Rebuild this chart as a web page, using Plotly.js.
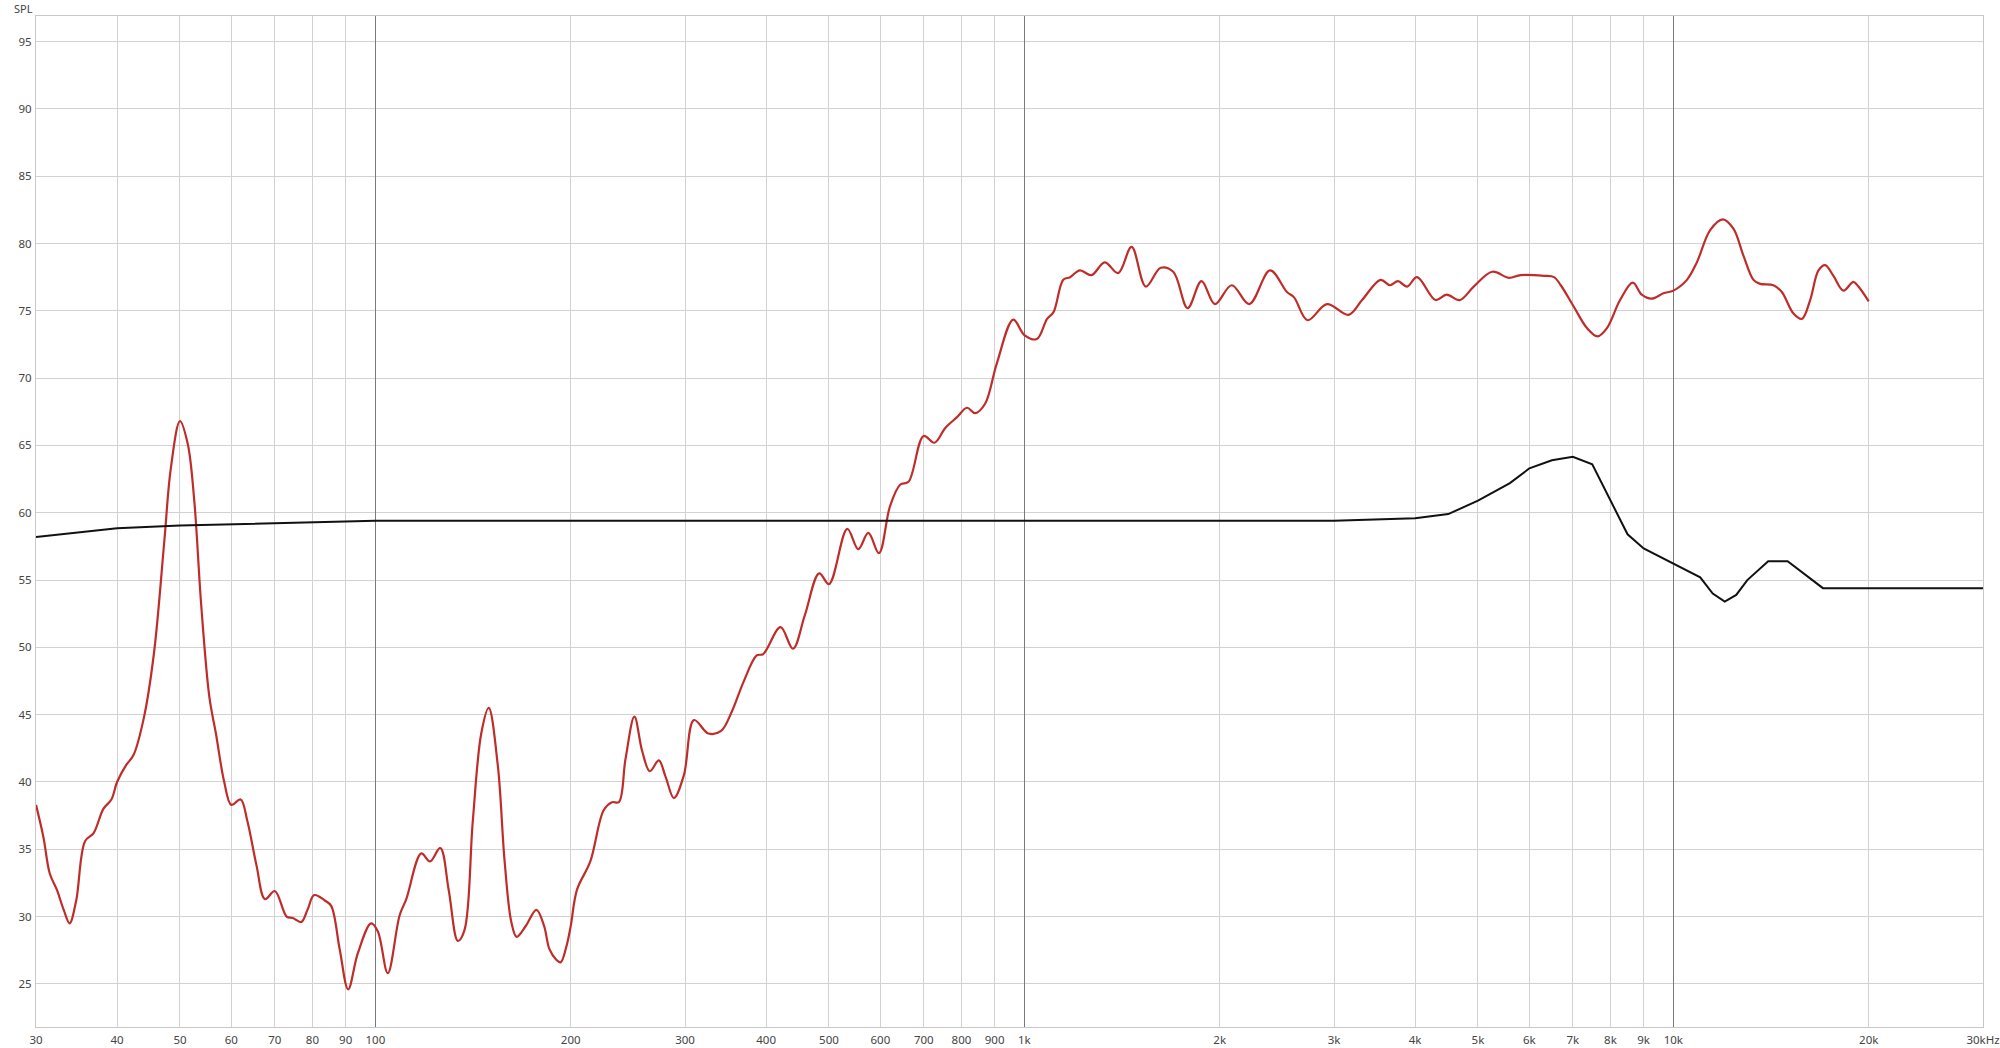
<!DOCTYPE html>
<html>
<head>
<meta charset="utf-8">
<script src="https://cdn.plot.ly/plotly-3.0.1.min.js"></script>
<style>
  html, body { margin: 0; padding: 0; background: #ffffff; }
  #chart { width: 2000px; height: 1048px; }
</style>
</head>
<body>
<div id="chart"></div>
<script>
// Measured response (red)
const measFreq = [
  30, 30.8, 31.5, 32.3, 33.1, 33.8, 34.6, 35.7, 36.8, 38.1, 39.2, 40, 41.3, 42.4, 44.0, 45.6, 47.3, 48.4, 50,
  51.4, 52.6, 53.9, 55.5, 56.8, 58.5, 60, 62.0, 63.5, 65.6, 67.6, 70, 73.0, 74.6, 76.9, 78.6, 80.5, 83.6, 85.5, 88.1, 90.8, 94.0, 98.5, 100.9,
  104.5, 109.0, 111.6, 117.7, 121.4, 125.9, 129.7, 134.0, 137.2, 141.3, 145.6, 149.5, 154.4, 158.2, 162.0, 165.1, 170.5, 177.1, 182.0, 185.4, 190, 193, 197, 200,
  204.5, 214.4, 224.8, 231.6, 237.2, 242.9, 250.7, 257.7, 264.8, 273.4, 280, 288.4, 298.8, 309.7, 326, 341, 354, 369, 386.9, 396, 421, 440, 459, 483, 500,
  533.5, 554.8, 574.9, 597, 621, 644, 663, 699.5, 726.6, 755.5, 787.5, 815.8, 839.8, 870, 907, 961.6, 1000,
  1045, 1084, 1109, 1148, 1176, 1218, 1269, 1330, 1395, 1463, 1539, 1622, 1696, 1785, 1875, 1966, 2087,
  2221, 2391, 2539, 2604, 2731, 2926, 3159, 3314, 3539, 3659, 3764, 3888, 4028, 4301, 4473, 4687, 4925, 5261, 5579, 5815, 6320, 6550, 6707,
  7025, 7365, 7637, 7896, 8278, 8658, 8939, 9263, 9654, 10000, 10493, 10870, 11395, 11920, 12375, 12823, 13288, 13605, 14264, 14694, 15314, 15775, 16248, 16734, 17136, 17648, 18285, 18945, 19284, 20000
];
const measSPL = [
  38.3, 35.9, 33.2, 32.0, 30.5, 29.5, 31.2, 35.6, 36.2, 38.0, 38.7, 40, 41.25, 42.0, 44.8, 49.6, 57.9, 63.3, 66.8,
  65.1, 60.9, 53.2, 46.3, 43.6, 40, 38.3, 38.7, 37.1, 33.8, 31.3, 31.9, 30.0, 29.9, 29.6, 30.5, 31.6, 31.2, 30.8, 27.6, 24.6, 27.3, 29.5, 28.9,
  25.8, 30.1, 31.3, 34.7, 34.1, 35.1, 32.0, 28.2, 29.0, 37.1, 43.6, 45.5, 41.25, 34.1, 29.6, 28.5, 29.3, 30.5, 29.3, 27.6, 26.8, 26.6, 27.8, 29.3,
  32.0, 34.1, 37.9, 38.5, 38.5, 41.7, 44.85, 42.3, 40.8, 41.6, 40.4, 38.8, 40.5, 44.6, 43.6, 43.8, 45.2, 47.4, 49.4, 49.5, 51.5, 49.9, 52.4, 55.5, 54.7,
  58.8, 57.3, 58.5, 57.0, 60.5, 62.1, 62.3, 65.7, 65.2, 66.3, 67.1, 67.8, 67.4, 68.1, 71.1, 74.35, 73.2,
  72.9, 74.4, 74.9, 77.3, 77.5, 78.0, 77.65, 78.6, 77.8, 79.75, 76.8, 78.2, 77.9, 75.2, 77.2, 75.5, 76.9,
  75.5, 78.0, 76.4, 76.0, 74.3, 75.5, 74.7, 75.8, 77.3, 76.9, 77.2, 76.8, 77.5, 75.8, 76.2, 75.8, 76.8, 77.9, 77.45, 77.65, 77.6, 77.5, 76.9,
  75.3, 73.7, 73.1, 73.7, 75.8, 77.1, 76.2, 75.9, 76.3, 76.5, 77.3, 78.6, 81.0, 81.8, 81.1, 79.1, 77.3, 77.0, 76.9, 76.4, 74.8, 74.4, 75.8, 78.0, 78.4, 77.6, 76.5, 77.15, 76.8, 75.7
];

// Target curve (black)
const targetFreq = [30, 40, 50, 60, 70, 80, 90, 100, 3000, 4000, 4500, 5000, 5600, 6000, 6500, 7000, 7500, 8500, 9000, 10000, 11000, 11500, 12000, 12500, 13000, 14000, 15000, 17000, 30000];
const targetSPL  = [58.2, 58.85, 59.05, 59.15, 59.2, 59.28, 59.33, 59.4, 59.4, 59.6, 59.9, 60.9, 62.2, 63.3, 63.9, 64.15, 63.6, 58.4, 57.35, 56.2, 55.2, 54.0, 53.4, 53.9, 55.0, 56.4, 56.4, 54.4, 54.4];

// Axis ticks
const xTickVals = [30, 40, 50, 60, 70, 80, 90, 100, 200, 300, 400, 500, 600, 700, 800, 900, 1000, 2000, 3000, 4000, 5000, 6000, 7000, 8000, 9000, 10000, 20000, 30000];
const xTickText = ["30", "40", "50", "60", "70", "80", "90", "100", "200", "300", "400", "500", "600", "700", "800", "900", "1k", "2k", "3k", "4k", "5k", "6k", "7k", "8k", "9k", "10k", "20k", "30kHz"];
const yTickVals = [25, 30, 35, 40, 45, 50, 55, 60, 65, 70, 75, 80, 85, 90, 95];
const decadeLines = [100, 1000, 10000];

const fontFam = '"Noto Sans", "Open Sans", sans-serif';
const xRange = [Math.log10(30), Math.log10(30000)];

const traces = [
  {
    x: targetFreq, y: targetSPL, type: 'scatter', mode: 'lines',
    xaxis: 'x2',
    line: { color: '#111111', width: 2 },
    hoverinfo: 'skip', showlegend: false
  },
  {
    x: measFreq, y: measSPL, type: 'scatter', mode: 'lines',
    line: { color: '#bf2d2a', width: 2.2, shape: 'spline', smoothing: 1 },
    hoverinfo: 'skip', showlegend: false
  }
];

const layout = {
  width: 2000, height: 1048,
  margin: { l: 36, r: 17, t: 16, b: 21, pad: 0 },
  paper_bgcolor: '#ffffff', plot_bgcolor: '#ffffff',
  font: { family: fontFam, size: 12, color: '#444444' },
  showlegend: false,
  xaxis: {
    type: 'log',
    range: xRange,
    tickvals: xTickVals, ticktext: xTickText,
    tickangle: 0,
    showgrid: true, gridcolor: '#d2d2d2', gridwidth: 1,
    showline: true, linecolor: '#c8c8c8', linewidth: 1, mirror: true,
    ticks: '', zeroline: false,
    tickfont: { family: fontFam, size: 11.5, color: '#444444' },
    ticklabelstandoff: 2
  },
  // overlay axis used only for the darker decade gridlines (100, 1k, 10k)
  xaxis2: {
    type: 'log', overlaying: 'x', side: 'bottom',
    range: xRange,
    tickvals: decadeLines,
    showticklabels: false, ticks: '',
    showgrid: true, gridcolor: '#7a7a7a', gridwidth: 1,
    showline: false, zeroline: false
  },
  yaxis: {
    range: [21.8, 96.9],
    tickvals: yTickVals,
    showgrid: true, gridcolor: '#d2d2d2', gridwidth: 1,
    showline: true, linecolor: '#c8c8c8', linewidth: 1, mirror: true,
    ticks: '', zeroline: false,
    tickfont: { family: fontFam, size: 11.5, color: '#444444' },
    ticklabelstandoff: 1
  },
  annotations: [{
    text: 'SPL', xref: 'paper', yref: 'paper', x: 0, y: 1,
    xanchor: 'right', yanchor: 'top', xshift: -2, yshift: 16,
    borderpad: 0,
    showarrow: false, font: { family: fontFam, size: 11, color: '#444444' }
  }]
};

Plotly.newPlot('chart', traces, layout, { displayModeBar: false, staticPlot: true });
</script>
</body>
</html>
